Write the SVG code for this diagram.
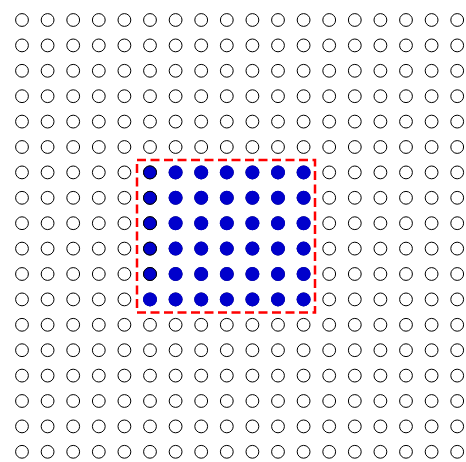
<svg xmlns="http://www.w3.org/2000/svg" xmlns:xlink="http://www.w3.org/1999/xlink" width="466" height="462" viewBox="0 0 466 462">
<style>
.o{fill:#fff;stroke:#000;stroke-width:1}
.b{fill:#0000cc;stroke:none}
.bk{fill:#0000cc;stroke:#000;stroke-width:1}
.sel{fill:none;stroke:#ff0000;stroke-width:2.5;stroke-dasharray:9,4.5}
</style>
<defs>
<g id="row">
<circle class="o" cx="22" cy="0" r="6.4"/><circle class="o" cx="47.6" cy="0" r="6.4"/><circle class="o" cx="73.2" cy="0" r="6.4"/><circle class="o" cx="98.8" cy="0" r="6.4"/><circle class="o" cx="124.4" cy="0" r="6.4"/><circle class="o" cx="150" cy="0" r="6.4"/><circle class="o" cx="175.6" cy="0" r="6.4"/><circle class="o" cx="201.2" cy="0" r="6.4"/><circle class="o" cx="226.8" cy="0" r="6.4"/><circle class="o" cx="252.4" cy="0" r="6.4"/><circle class="o" cx="278" cy="0" r="6.4"/><circle class="o" cx="303.6" cy="0" r="6.4"/><circle class="o" cx="329.2" cy="0" r="6.4"/><circle class="o" cx="354.8" cy="0" r="6.4"/><circle class="o" cx="380.4" cy="0" r="6.4"/><circle class="o" cx="406" cy="0" r="6.4"/><circle class="o" cx="431.6" cy="0" r="6.4"/><circle class="o" cx="457.2" cy="0" r="6.4"/>
</g>
<g id="brow">
<circle class="b" cx="175.6" cy="0" r="7"/><circle class="b" cx="201.2" cy="0" r="7"/><circle class="b" cx="226.8" cy="0" r="7"/><circle class="b" cx="252.4" cy="0" r="7"/><circle class="b" cx="278" cy="0" r="7"/><circle class="b" cx="303.6" cy="0" r="7"/>
</g>
</defs>
<g id="grid">
<use xlink:href="#row" y="20"/>
<use xlink:href="#row" y="45.4"/>
<use xlink:href="#row" y="70.8"/>
<use xlink:href="#row" y="96.2"/>
<use xlink:href="#row" y="121.6"/>
<use xlink:href="#row" y="147"/>
<use xlink:href="#row" y="172.4"/>
<use xlink:href="#row" y="197.8"/>
<use xlink:href="#row" y="223.2"/>
<use xlink:href="#row" y="248.6"/>
<use xlink:href="#row" y="274"/>
<use xlink:href="#row" y="299.4"/>
<use xlink:href="#row" y="324.8"/>
<use xlink:href="#row" y="350.2"/>
<use xlink:href="#row" y="375.6"/>
<use xlink:href="#row" y="401"/>
<use xlink:href="#row" y="426.4"/>
<use xlink:href="#row" y="451.8"/>
</g>
<g id="selected">
<use xlink:href="#brow" y="172.4"/>
<use xlink:href="#brow" y="197.8"/>
<use xlink:href="#brow" y="223.2"/>
<use xlink:href="#brow" y="248.6"/>
<use xlink:href="#brow" y="274"/>
<use xlink:href="#brow" y="299.4"/>
<circle class="bk" cx="150" cy="172.4" r="6.5"/>
<circle class="bk" cx="150" cy="197.8" r="6.5"/>
<circle class="bk" cx="150" cy="223.2" r="6.5"/>
<circle class="bk" cx="150" cy="248.6" r="6.5"/>
<circle class="bk" cx="150" cy="274" r="6.5"/>
<circle class="b" cx="150" cy="299.4" r="7"/>
</g>
<g id="selection">
<rect class="sel" x="137" y="160" width="178" height="152.5"/>
</g>
</svg>
